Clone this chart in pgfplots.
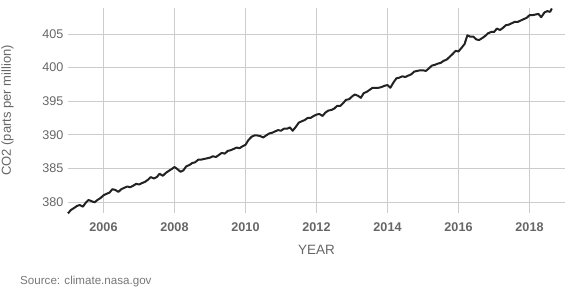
\documentclass[border=0pt]{standalone}
\usepackage{pgfplots}
\pgfplotsset{compat=1.18}
\usepackage{pgfplotstable}
\usepackage{fontspec}
\setmainfont{Liberation Sans}
\definecolor{gridc}{HTML}{CCCCCC}
\definecolor{txt}{HTML}{666666}
\definecolor{srct}{HTML}{777777}
\definecolor{linec}{HTML}{222222}
\pgfplotstableread{
year ppm
2005.00 378.3
2005.08 378.8
2005.17 379.1
2005.25 379.4
2005.33 379.55
2005.42 379.3
2005.50 379.9
2005.58 380.3
2005.67 380.1
2005.75 379.95
2005.83 380.3
2005.92 380.6
2006.00 381.0
2006.08 381.2
2006.17 381.4
2006.25 381.9
2006.33 381.8
2006.42 381.5
2006.50 381.9
2006.58 382.1
2006.67 382.3
2006.75 382.2
2006.83 382.4
2006.92 382.7
2007.00 382.6
2007.08 382.8
2007.17 383.0
2007.25 383.3
2007.33 383.7
2007.42 383.5
2007.50 383.7
2007.58 384.2
2007.67 383.9
2007.75 384.3
2007.83 384.6
2007.92 384.9
2008.00 385.2
2008.08 384.9
2008.17 384.5
2008.25 384.7
2008.33 385.3
2008.42 385.5
2008.50 385.8
2008.58 385.9
2008.67 386.3
2008.75 386.3
2008.83 386.4
2008.92 386.5
2009.00 386.6
2009.08 386.8
2009.17 386.7
2009.25 387.0
2009.33 387.3
2009.42 387.2
2009.50 387.6
2009.58 387.7
2009.67 387.9
2009.75 388.1
2009.83 388.0
2009.92 388.3
2010.00 388.5
2010.08 389.2
2010.17 389.7
2010.25 389.9
2010.33 389.9
2010.42 389.8
2010.50 389.6
2010.58 389.9
2010.67 390.2
2010.75 390.3
2010.83 390.5
2010.92 390.7
2011.00 390.6
2011.08 390.9
2011.17 390.9
2011.25 391.1
2011.33 390.6
2011.42 391.2
2011.50 391.8
2011.58 392.0
2011.67 392.2
2011.75 392.5
2011.83 392.5
2011.92 392.8
2012.00 393.0
2012.08 393.1
2012.17 392.8
2012.25 393.3
2012.33 393.6
2012.42 393.7
2012.50 393.9
2012.58 394.3
2012.67 394.3
2012.75 394.7
2012.83 395.2
2012.92 395.3
2013.00 395.7
2013.08 396.0
2013.17 395.8
2013.25 395.5
2013.33 396.2
2013.42 396.4
2013.50 396.7
2013.58 397.0
2013.67 397.0
2013.75 397.0
2013.83 397.1
2013.92 397.3
2014.00 397.4
2014.08 397.0
2014.17 397.8
2014.25 398.4
2014.33 398.5
2014.42 398.7
2014.50 398.6
2014.58 398.8
2014.67 399.0
2014.75 399.4
2014.83 399.5
2014.92 399.6
2015.00 399.6
2015.08 399.5
2015.17 399.9
2015.25 400.3
2015.33 400.4
2015.42 400.6
2015.50 400.7
2015.58 401.0
2015.67 401.2
2015.75 401.6
2015.83 402.0
2015.92 402.5
2016.00 402.4
2016.08 402.9
2016.17 403.5
2016.25 404.8
2016.33 404.6
2016.42 404.6
2016.50 404.2
2016.58 404.1
2016.67 404.4
2016.75 404.7
2016.83 405.1
2016.92 405.3
2017.00 405.3
2017.08 405.8
2017.17 405.6
2017.25 405.9
2017.33 406.3
2017.42 406.4
2017.50 406.6
2017.58 406.8
2017.67 406.8
2017.75 407.0
2017.83 407.2
2017.92 407.4
2018.00 407.8
2018.08 407.8
2018.17 407.9
2018.25 408.0
2018.33 407.5
2018.42 408.2
2018.50 408.4
2018.58 408.3
2018.63 408.8
}\codata
\begin{document}
\begin{tikzpicture}
\useasboundingbox (0,0) rectangle (572pt,304pt);
\begin{axis}[
  at={(68pt,91pt)}, anchor=south west,
  scale only axis, width=497pt, height=205pt,
  xmin=2005, xmax=2019, ymin=378.36, ymax=408.87,
  xtick={2006,2008,...,2018},
  ytick={380,385,...,405},
  grid=major,
  major grid style={gridc, line width=0.8pt},
  axis line style={draw=none},
  major tick length=0pt,
  /pgf/number format/1000 sep={},
  /pgf/number format/assume math mode=true,
  xticklabel style={font=\fontsize{12.6}{14}\selectfont\bfseries, text=txt, yshift=-6pt},
  yticklabel style={font=\fontsize{12.6}{14}\selectfont, text=txt, xshift=-1pt},
  xlabel={YEAR},
  xlabel style={font=\fontsize{13.5}{15}\selectfont, text=txt, at={(axis description cs:0.5,-0.1805)}, anchor=center},
  ylabel={CO2 (parts per million)},
  ylabel style={font=\fontsize{13}{15}\selectfont, text=txt, at={(axis description cs:-0.1217,0.5)}, anchor=center, rotate=0},
  clip=false,
]
\addplot[linec, line width=2pt, line join=round] table[x=year, y=ppm] {\codata};
\end{axis}
\node[anchor=west, inner sep=0pt, font=\fontsize{11.6}{13}\selectfont, text=srct] at (20pt,22.3pt) {Source: climate.nasa.gov};
\end{tikzpicture}
\end{document}
